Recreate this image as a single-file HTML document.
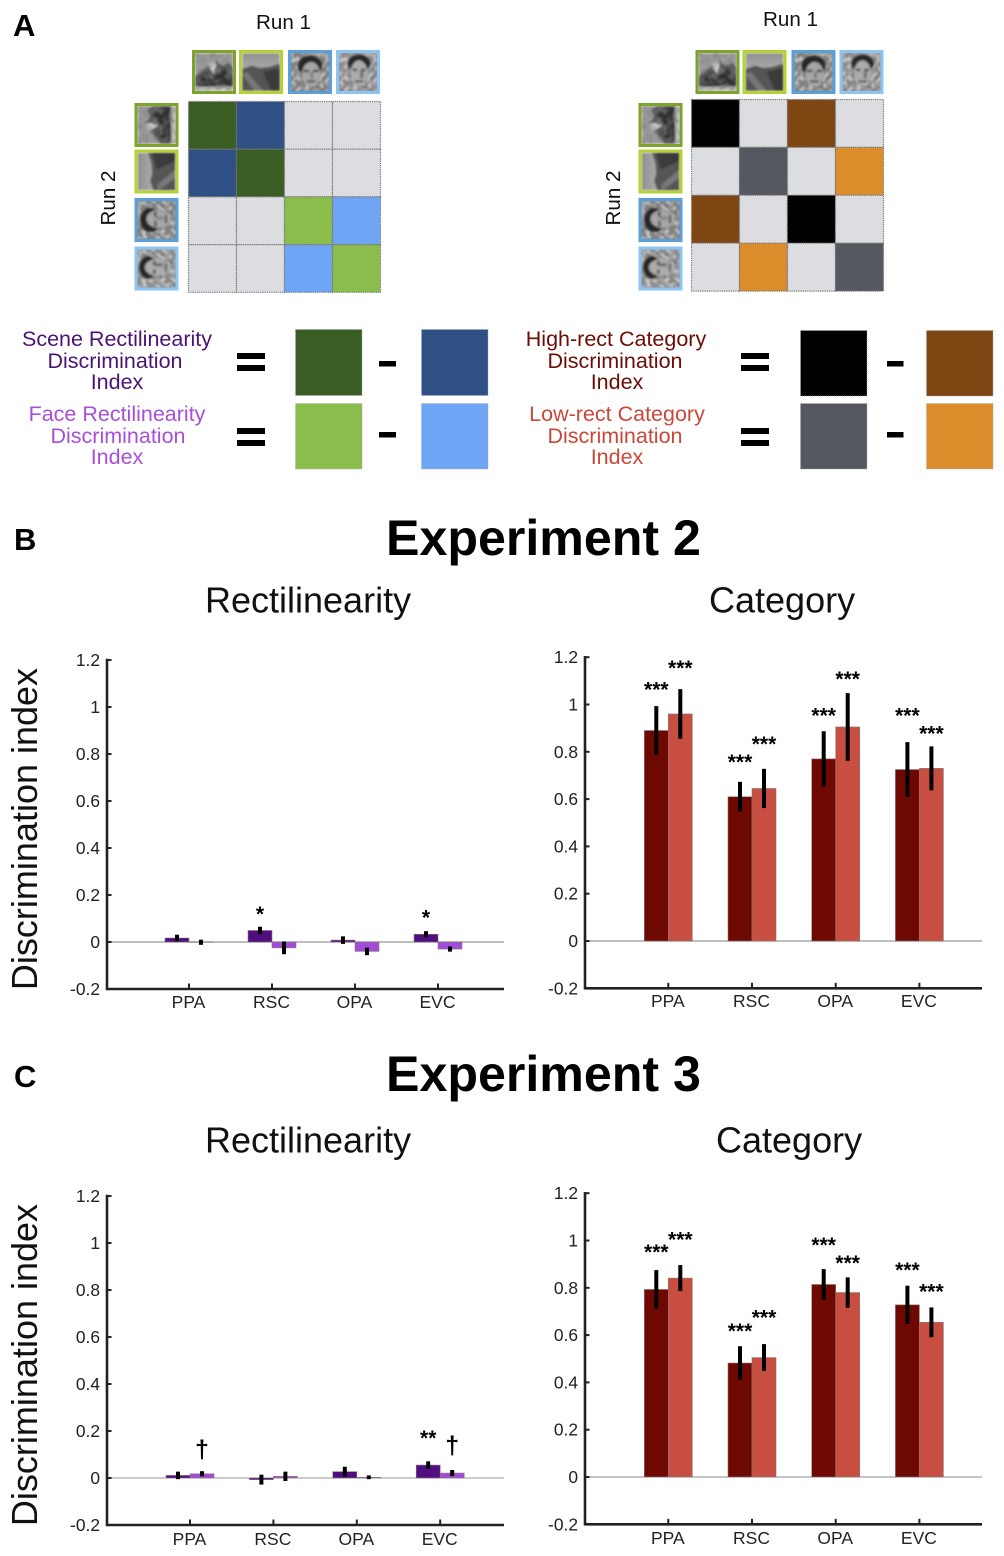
<!DOCTYPE html>
<html lang="en">
<head>
<meta charset="utf-8">
<title>Discrimination index figure</title>
<style>
html,body{margin:0;padding:0;background:#fff;}
svg{display:block;font-family:"Liberation Sans",Arial,sans-serif;}
</style>
</head>
<body>
<svg id="fig" xmlns="http://www.w3.org/2000/svg" width="1004" height="1556" viewBox="0 0 1004 1556">
<defs>
<filter id="soft" x="-10%" y="-10%" width="120%" height="120%"><feGaussianBlur stdDeviation="0.9"/></filter>
<filter id="mottle" x="0" y="0" width="100%" height="100%">
<feTurbulence type="fractalNoise" baseFrequency="0.2" numOctaves="1" seed="4"/>
<feColorMatrix type="matrix" values="0 0 0 0 0.2  0 0 0 0 0.2  0 0 0 0 0.2  2.2 0 0 0 -0.85"/>
<feGaussianBlur stdDeviation="0.5"/>
</filter>
<filter id="mottleLight" x="0" y="0" width="100%" height="100%">
<feTurbulence type="fractalNoise" baseFrequency="0.22" numOctaves="1" seed="11"/>
<feColorMatrix type="matrix" values="0 0 0 0 0.8  0 0 0 0 0.8  0 0 0 0 0.8  2 0 0 0 -0.85"/>
<feGaussianBlur stdDeviation="0.5"/>
</filter>
<linearGradient id="sky" x1="0" y1="0" x2="0" y2="1"><stop offset="0" stop-color="#8f8f8f"/><stop offset="1" stop-color="#d6d6d6"/></linearGradient>
<symbol id="scene1" viewBox="0 0 36 36">
<g filter="url(#soft)">
<rect width="36" height="36" fill="#9a9a9a"/>
<polygon points="0,22 6,17 13,12 18,3 22,10 27,12 32,9 36,14 36,36 0,36" fill="#555"/>
<polygon points="13,12 18,3 20,12 18,20 15,16" fill="#c8c8c8"/>
<polygon points="3,34 5,24 11,18 16,26 22,18 28,15 33,22 36,22 36,32 26,30 14,32" fill="#333"/>
<rect y="32" width="36" height="4" fill="#bbb"/>
</g>
<rect width="36" height="36" filter="url(#mottle)" opacity=".7"/>
</symbol>
<symbol id="scene2" viewBox="0 0 36 36">
<g filter="url(#soft)">
<rect width="36" height="36" fill="url(#sky)"/>
<polygon points="0,15 9,12 17,14 26,13 36,10 36,36 0,36" fill="#555"/>
<polygon points="0,20 5,18 20,36 12,36" fill="#777"/>
<polygon points="20,18 36,14 36,36 28,36" fill="#3a3a3a"/>
</g>
</symbol>
<symbol id="face1" viewBox="0 0 36 36">
<rect width="36" height="36" fill="#858585"/>
<rect width="36" height="36" filter="url(#mottle)"/>
<rect width="36" height="36" filter="url(#mottleLight)"/>
<g filter="url(#soft)">
<ellipse cx="18" cy="12" rx="11.5" ry="9.5" fill="#252525"/>
<ellipse cx="19" cy="20" rx="8.5" ry="11.5" fill="#a6a6a6"/>
<rect x="12" y="16" width="5" height="2" fill="#2c2c2c"/>
<rect x="21" y="16" width="5" height="2" fill="#2c2c2c"/>
<rect x="18.5" y="18" width="2.5" height="6" fill="#7a7a7a"/>
<rect x="15" y="26" width="8" height="1.8" fill="#3c3c3c"/>
</g>
</symbol>
<symbol id="face2" viewBox="0 0 36 36">
<rect width="36" height="36" fill="#929292"/>
<rect width="36" height="36" filter="url(#mottle)"/>
<rect width="36" height="36" filter="url(#mottleLight)"/>
<g filter="url(#soft)">
<ellipse cx="19" cy="10" rx="10.5" ry="8.5" fill="#282828"/>
<ellipse cx="19" cy="19" rx="8" ry="12" fill="#ababab"/>
<rect x="13" y="15" width="4" height="2" fill="#303030"/>
<rect x="21" y="15" width="4" height="2" fill="#303030"/>
<rect x="20" y="17" width="3" height="7" fill="#6e6e6e"/>
<rect x="15" y="26" width="8" height="1.8" fill="#484848"/>
</g>
</symbol>
</defs>

<rect width="1004" height="1556" fill="#fff"/>

<text x="13" y="36" font-size="31" font-weight="700">A</text>
<text x="14" y="550" font-size="31" font-weight="700">B</text>
<text x="14" y="1087" font-size="31" font-weight="700">C</text>

<text x="256" y="29" font-size="20.6" fill="#111">Run 1</text>
<text x="763" y="26" font-size="20.6" fill="#111">Run 1</text>
<text x="115" y="198" font-size="20.6" fill="#111" text-anchor="middle" transform="rotate(-90 115 198)">Run 2</text>
<text x="620" y="198" font-size="20.6" fill="#111" text-anchor="middle" transform="rotate(-90 620 198)">Run 2</text>

<g font-size="21.5" text-anchor="middle" fill="#4a1473">
<text x="117" y="346">Scene Rectilinearity</text>
<text x="115" y="368">Discrimination</text>
<text x="117" y="389">Index</text>
</g>
<g font-size="21.5" text-anchor="middle" fill="#a84fd8">
<text x="117" y="421">Face Rectilinearity</text>
<text x="118" y="443">Discrimination</text>
<text x="117" y="464">Index</text>
</g>
<g font-size="21.5" text-anchor="middle" fill="#6b0c06">
<text x="616" y="346">High-rect Category</text>
<text x="615" y="368">Discrimination</text>
<text x="617" y="389">Index</text>
</g>
<g font-size="21.5" text-anchor="middle" fill="#c9473b">
<text x="617" y="421">Low-rect Category</text>
<text x="615" y="443">Discrimination</text>
<text x="617" y="464">Index</text>
</g>

<g fill="#000">
<rect x="237" y="353" width="28" height="6"/><rect x="237" y="365" width="28" height="6"/>
<rect x="237" y="428" width="28" height="6"/><rect x="237" y="440" width="28" height="6"/>
<rect x="741" y="353" width="28" height="6"/><rect x="741" y="365" width="28" height="6"/>
<rect x="741" y="428" width="28" height="6"/><rect x="741" y="440" width="28" height="6"/>
</g>
<g fill="#000">
<rect x="379" y="361" width="17" height="5.5"/><rect x="379" y="432" width="17" height="5.5"/>
<rect x="887" y="361" width="16.5" height="5.5"/><rect x="887" y="432" width="16.5" height="5.5"/>
</g>
<g stroke="#aaa" stroke-width="0.8" stroke-dasharray="1 1">
<rect x="295.5" y="329.5" width="66.5" height="66" fill="#3a5d24"/>
<rect x="421.5" y="329.5" width="66.5" height="66" fill="#2f5084"/>
<rect x="295.5" y="403.5" width="66.5" height="65.5" fill="#8bbd4c"/>
<rect x="421.5" y="403.5" width="66.5" height="65.5" fill="#6fa5f5"/>
<rect x="800.5" y="330.5" width="66.5" height="65.5" fill="#000"/>
<rect x="926.5" y="330.5" width="66.5" height="65.5" fill="#7e4613"/>
<rect x="800.5" y="403.5" width="66.5" height="65.5" fill="#555860"/>
<rect x="926.5" y="403.5" width="66.5" height="65.5" fill="#dc8d2b"/>
</g>

<text x="386" y="555" font-size="50.15" font-weight="700">Experiment 2</text>
<text x="386" y="1091" font-size="50.15" font-weight="700">Experiment 3</text>
<text x="205" y="612.5" font-size="36" fill="#111">Rectilinearity</text>
<text x="709" y="612.5" font-size="36" fill="#111">Category</text>
<text x="205" y="1152.5" font-size="36" fill="#111">Rectilinearity</text>
<text x="716" y="1152.5" font-size="36" fill="#111">Category</text>
<text x="37" y="829" font-size="36" fill="#111" text-anchor="middle" transform="rotate(-90 37 829)">Discrimination index</text>
<text x="37" y="1365" font-size="36" fill="#111" text-anchor="middle" transform="rotate(-90 37 1365)">Discrimination index</text>
</svg>

<script>
// ---- chart data ----
const categories = ['PPA', 'RSC', 'OPA', 'EVC'];
const tickValues = [1.2, 1, 0.8, 0.6, 0.4, 0.2, 0, -0.2];
const tickLabels = ['1.2', '1', '0.8', '0.6', '0.4', '0.2', '0', '-0.2'];

const exp2SceneValues = [0.017, 0.049, 0.008, 0.033];
const exp2SceneErrors = [0.014, 0.016, 0.016, 0.013];
const exp2SceneSig = ['', '*', '', '*'];
const exp2SceneSigLevels = [0, 0.131, 0, 0.116];
const exp2FaceValues = [-0.001, -0.025, -0.04, -0.03];
const exp2FaceErrors = [0.011, 0.027, 0.016, 0.011];
const exp2FaceSig = ['', '', '', ''];
const exp2FaceSigLevels = [0, 0, 0, 0];

const exp2HighValues = [0.89, 0.61, 0.77, 0.725];
const exp2HighErrors = [0.103, 0.063, 0.117, 0.116];
const exp2HighSig = ['***', '***', '***', '***'];
const exp2HighSigLevels = [1.076, 0.77, 0.966, 0.966];
const exp2LowValues = [0.96, 0.645, 0.905, 0.73];
const exp2LowErrors = [0.105, 0.083, 0.143, 0.093];
const exp2LowSig = ['***', '***', '***', '***'];
const exp2LowSigLevels = [1.168, 0.846, 1.121, 0.89];

const exp3SceneValues = [0.011, -0.007, 0.027, 0.055];
const exp3SceneErrors = [0.016, 0.021, 0.021, 0.016];
const exp3SceneSig = ['', '', '', '**'];
const exp3SceneSigLevels = [0, 0, 0, 0.182];
const exp3FaceValues = [0.018, 0.007, 0.003, 0.021];
const exp3FaceErrors = [0.011, 0.02, 0.008, 0.013];
const exp3FaceSig = ['\u2020', '', '', '\u2020'];
const exp3FaceSigLevels = [0.122, 0, 0, 0.138];

const exp3HighValues = [0.793, 0.482, 0.814, 0.728];
const exp3HighErrors = [0.082, 0.071, 0.065, 0.081];
const exp3HighSig = ['***', '***', '***', '***'];
const exp3HighSigLevels = [0.965, 0.629, 0.994, 0.889];
const exp3LowValues = [0.841, 0.505, 0.78, 0.654];
const exp3LowErrors = [0.055, 0.057, 0.064, 0.063];
const exp3LowSig = ['***', '***', '***', '***'];
const exp3LowSigLevels = [1.016, 0.688, 0.917, 0.797];

// ---- matrix colour keys ----
const leftMatrix = [['dg','db','n','n'],['db','dg','n','n'],['n','n','lg','lb'],['n','n','lb','lg']];
const rightMatrix = [['k','n','br','n'],['n','gr','n','or'],['br','n','k','n'],['n','or','n','gr']];
const cellColors = {dg:'#3a5d24',db:'#2f5084',lg:'#8bbd4c',lb:'#6fa5f5',k:'#000',br:'#7e4613',gr:'#555860',or:'#dc8d2b',n:'#dcdde0'};
const thumbSymbols = ['scene1','scene2','face1','face2'];
const thumbBorders = ['#7da32c','#b3d334','#5a9fd8','#8cc4f4'];

const NS = 'http://www.w3.org/2000/svg';
const fig = document.getElementById('fig');

function mk(tag, attrs, parent) {
  const el = document.createElementNS(NS, tag);
  for (const k in attrs) el.setAttribute(k, attrs[k]);
  (parent || fig).appendChild(el);
  return el;
}

function drawThumb(x, y, idx, rotated, label) {
  const g = mk('g', {});
  
  
  const t = rotated ? 'rotate(-90 ' + (x + 22) + ' ' + (y + 22) + ')' : '';
  mk('use', {href: '#' + thumbSymbols[idx], x: x + 3, y: y + 3, width: 38, height: 38, transform: t}, g);
  mk('rect', {x: x + 1.5, y: y + 1.5, width: 41, height: 41, fill: 'none', stroke: thumbBorders[idx], 'stroke-width': 3}, g);
}

function drawMatrix(name, matrix, cx, cy, cellW, cellH, topXs, topY, sideX, sideYs) {
  const group = mk('g', {});
  
  
  matrix.forEach(function (row, r) {
    row.forEach(function (key, c) {
      const cell = mk('rect', {
        x: cx + c * cellW, y: cy + r * cellH, width: cellW, height: cellH,
        fill: cellColors[key], stroke: '#777', 'stroke-width': 1.2, 'stroke-dasharray': '1.2 1'
      }, group);
      
      
    });
  });
  topXs.forEach(function (x, i) { drawThumb(x, topY, i, false, 'run-1-thumbnail'); });
  sideYs.forEach(function (y, i) { drawThumb(sideX, y, i, true, 'run-2-thumbnail'); });
}

drawMatrix('left-similarity-matrix', leftMatrix, 188.5, 101.5, 48, 47.7, [192, 239, 288, 336], 50, 134.5, [103, 149.5, 198, 246.5]);
drawMatrix('right-similarity-matrix', rightMatrix, 691.5, 99.5, 48, 47.9, [695.5, 742.5, 791.5, 839.5], 50, 638.5, [103, 149.5, 198, 246.5]);

function drawChart(cfg) {
  const group = mk('g', {});
  
  
  const yScale = function (v) { return cfg.zero - v * cfg.unit; };
  const xScale = function (i) { return cfg.firstX + i * cfg.stepX; };
  const barW = 24;

  // zero line
  const zeroLine = mk('line', {x1: cfg.axisX, x2: cfg.axisEnd, y1: yScale(0), y2: yScale(0), stroke: cfg.zeroColor, 'stroke-width': cfg.zeroWidth}, group);
  
  

  // bars and error bars
  cfg.series.forEach(function (s, sIdx) {
    categories.forEach(function (cat, i) {
      const v = s.values[i];
      const left = xScale(i) - (sIdx === 0 ? barW : 0);
      const bar = mk('rect', {
        x: left, y: Math.min(yScale(v), yScale(0)), width: barW,
        height: Math.abs(yScale(v) - yScale(0)),
        fill: s.color, stroke: '#8a7a7a', 'stroke-width': 0.6
      }, group);
      
      
    });
  });
  cfg.series.forEach(function (s, sIdx) {
    categories.forEach(function (cat, i) {
      const cx = xScale(i) + (sIdx === 0 ? -12 : 12);
      const err = mk('line', {
        x1: cx, x2: cx, y1: yScale(s.values[i] + s.errors[i]), y2: yScale(s.values[i] - s.errors[i]),
        stroke: '#000', 'stroke-width': 4
      }, group);
      
      
      const mark = s.sig[i];
      if (mark) {
        const isDagger = mark === '\u2020';
        const fs = isDagger ? 25 : 21;
        const off = isDagger ? 8 : 10;
        const t = mk('text', {
          x: cx, y: yScale(s.sigLevels[i]) + off, 'text-anchor': 'middle',
          'font-size': fs, 'font-weight': 700, fill: '#000'
        }, group);
        t.textContent = mark;
        
        
      }
    });
  });

  // axes
  const yAxis = mk('line', {x1: cfg.axisX, x2: cfg.axisX, y1: yScale(1.2) - 1.2, y2: yScale(-0.2) + 1.2, stroke: '#222', 'stroke-width': 2.6}, group);
  
  
  const xAxis = mk('line', {x1: cfg.axisX, x2: cfg.axisEnd, y1: yScale(-0.2), y2: yScale(-0.2), stroke: '#222', 'stroke-width': 2.6}, group);
  
  

  tickValues.forEach(function (tv, i) {
    const tick = mk('line', {x1: cfg.axisX, x2: cfg.axisX + 4.5, y1: yScale(tv), y2: yScale(tv), stroke: '#222', 'stroke-width': 2}, group);
    
    
    const lab = mk('text', {x: cfg.axisX - 7, y: yScale(tv) + 6, 'text-anchor': 'end', 'font-size': 17.4, fill: '#222'}, group);
    lab.textContent = tickLabels[i];
    
    
  });
  categories.forEach(function (cat, i) {
    const tick = mk('line', {x1: xScale(i), x2: xScale(i), y1: yScale(-0.2), y2: yScale(-0.2) - 5.5, stroke: '#222', 'stroke-width': 2}, group);
    
    
    const lab = mk('text', {x: xScale(i) - 0.5, y: cfg.labelY, 'text-anchor': 'middle', 'font-size': 17.5, fill: '#222'}, group);
    lab.textContent = cat;
    
    
  });
}

const PURPLE_D = '#500e80', PURPLE_L = '#a24bd8', RED_D = '#6e0902', RED_L = '#c84e41';

drawChart({
  name: 'exp2-rectilinearity-chart', zero: 942, unit: 235, axisX: 107, axisEnd: 504,
  firstX: 189, stepX: 83, labelY: 1008, zeroColor: '#aaa', zeroWidth: 1.6,
  series: [
    {key: 'scene', color: PURPLE_D, values: exp2SceneValues, errors: exp2SceneErrors, sig: exp2SceneSig, sigLevels: exp2SceneSigLevels},
    {key: 'face', color: PURPLE_L, values: exp2FaceValues, errors: exp2FaceErrors, sig: exp2FaceSig, sigLevels: exp2FaceSigLevels}
  ]
});
drawChart({
  name: 'exp2-category-chart', zero: 941, unit: 236.5, axisX: 585, axisEnd: 982,
  firstX: 668.3, stepX: 83.7, labelY: 1007, zeroColor: '#aaa', zeroWidth: 1.6,
  series: [
    {key: 'high-rect', color: RED_D, values: exp2HighValues, errors: exp2HighErrors, sig: exp2HighSig, sigLevels: exp2HighSigLevels},
    {key: 'low-rect', color: RED_L, values: exp2LowValues, errors: exp2LowErrors, sig: exp2LowSig, sigLevels: exp2LowSigLevels}
  ]
});
drawChart({
  name: 'exp3-rectilinearity-chart', zero: 1478, unit: 235, axisX: 107, axisEnd: 504,
  firstX: 190, stepX: 83.4, labelY: 1545, zeroColor: '#999', zeroWidth: 1,
  series: [
    {key: 'scene', color: PURPLE_D, values: exp3SceneValues, errors: exp3SceneErrors, sig: exp3SceneSig, sigLevels: exp3SceneSigLevels},
    {key: 'face', color: PURPLE_L, values: exp3FaceValues, errors: exp3FaceErrors, sig: exp3FaceSig, sigLevels: exp3FaceSigLevels}
  ]
});
drawChart({
  name: 'exp3-category-chart', zero: 1477, unit: 236.5, axisX: 585, axisEnd: 982,
  firstX: 668.3, stepX: 83.7, labelY: 1544, zeroColor: '#888', zeroWidth: 1,
  series: [
    {key: 'high-rect', color: RED_D, values: exp3HighValues, errors: exp3HighErrors, sig: exp3HighSig, sigLevels: exp3HighSigLevels},
    {key: 'low-rect', color: RED_L, values: exp3LowValues, errors: exp3LowErrors, sig: exp3LowSig, sigLevels: exp3LowSigLevels}
  ]
});
</script>
</body>
</html>
